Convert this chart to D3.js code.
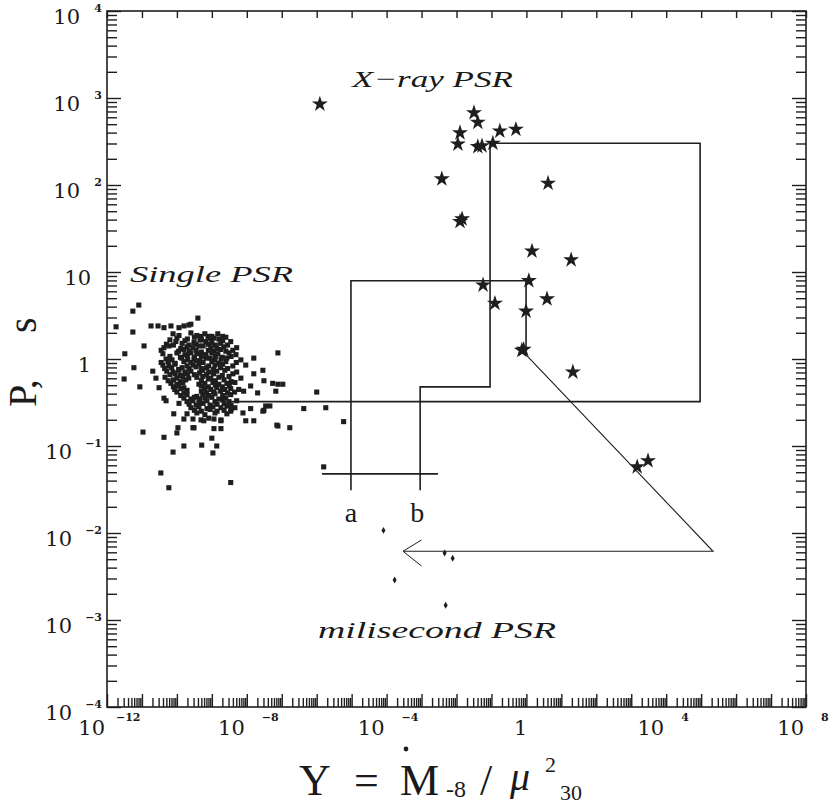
<!DOCTYPE html>
<html>
<head>
<meta charset="utf-8">
<script src="https://cdn.jsdelivr.net/npm/d3@7"></script>
<style>
  body { margin: 0; background: #fff; }
  text { fill: #1a1a1a; }
</style>
</head>
<body>
<div id="viz"></div>
<script>
var width = 831;
var height = 805;

// tick exponents (decades)
var xTickExps = [-12, -8, -4, 0, 4, 8];
var yTickExps = [-4, -3, -2, -1, 0, 1, 2, 3, 4];

// all points are [log10 Y, log10 P]
var xrayPSR = [
  [-5.91, 2.93], [-1.50, 2.83], [-1.39, 2.72], [-1.90, 2.60], [-1.96, 2.47],
  [-1.39, 2.44], [-1.27, 2.45], [-0.96, 2.48], [-0.76, 2.62], [-0.30, 2.64],
  [-2.42, 2.07], [0.62, 2.02], [-1.84, 1.61], [-1.90, 1.58], [0.16, 1.24],
  [1.28, 1.14], [-1.24, 0.85], [0.07, 0.90], [-0.90, 0.64], [0.59, 0.69],
  [-0.01, 0.55], [-0.13, 0.10], [-0.08, 0.11], [1.33, -0.15], [3.17, -1.24], [3.48, -1.17]
];

var singlePSR = [
  // scattered ones
  [-11.74, 0.37], [-11.26, 0.55], [-11.09, 0.62], [-11.26, 0.31], [-10.74, 0.38],
  [-11.49, 0.06], [-11.51, -0.23], [-11.23, -0.10], [-11.06, -0.32], [-10.94, 0.15],
  [-9.40, 0.47], [-9.66, 0.39], [-10.97, -0.84], [-10.37, -0.90], [-10.00, -0.85],
  [-9.80, -1.00], [-10.11, -1.07], [-9.29, -0.99], [-8.97, -1.08], [-8.86, -1.00],
  [-9.00, -0.91], [-9.54, -0.79], [-10.46, -1.31], [-10.23, -1.48], [-8.46, -1.42],
  [-7.11, 0.07], [-7.80, 0.01], [-7.54, -0.13], [-7.14, -0.76], [-6.77, -0.79],
  [-7.11, -0.29], [-7.51, -0.25], [-7.80, -0.71], [-7.51, -0.59], [-7.34, -0.54],
  [-6.00, -0.38], [-6.37, -0.57], [-5.74, -0.56], [-5.23, -0.72], [-5.80, -1.24],
  [-7.26, -0.28], [-6.97, -0.29], [-7.17, -0.37], [-7.89, -0.31], [-7.69, -0.39],
  [-8.09, -0.37], [-7.46, -0.54], [-7.54, -0.60], [-7.89, -0.57], [-8.11, -0.62],
  [-8.03, -0.71], [-7.11, -0.77], [-8.03, -0.07], [-7.80, -0.17],
  [-10.54, 0.38], [-10.37, 0.36], [-10.17, 0.38], [-9.94, 0.36], [-9.80, 0.38], [-9.60, 0.40],
  [-9.31, 0.26], [-9.11, 0.26], [-8.94, 0.24], [-8.69, 0.26], [-8.83, 0.29], [-8.60, 0.25],
  [-10.69, -0.14], [-10.60, -0.22], [-10.51, -0.33], [-10.37, -0.45], [-10.31, -0.48],
  [-9.94, -0.51], [-10.09, -0.63], [-9.80, -0.69], [-9.51, -0.79], [-9.23, -0.71],
  [-8.94, -0.69], [-8.74, -0.80], [-9.97, -0.79], [-8.94, -0.80], [-8.74, -0.71], [-8.46, -0.60],
  // the dense clump, row by row from the top
  [-10.11, 0.29], [-9.94, 0.27], [-9.60, 0.30], [-9.43, 0.27], [-9.20, 0.29], [-9.00, 0.26],
  [-10.00, 0.24], [-9.70, 0.23], [-9.50, 0.25], [-9.30, 0.22], [-9.05, 0.24], [-8.80, 0.23],
  [-10.20, 0.22], [-10.03, 0.20], [-9.77, 0.21], [-9.51, 0.19], [-9.34, 0.22], [-9.17, 0.20], [-9.00, 0.19], [-8.69, 0.21], [-8.46, 0.20],
  [-10.30, 0.17], [-10.10, 0.16], [-9.85, 0.18], [-9.65, 0.16], [-9.45, 0.17], [-9.25, 0.15], [-9.10, 0.17], [-8.90, 0.16], [-8.75, 0.18], [-8.55, 0.16],
  [-10.37, 0.13], [-10.23, 0.15], [-9.89, 0.12], [-9.71, 0.14], [-9.54, 0.13], [-9.37, 0.15], [-9.03, 0.13], [-8.86, 0.12], [-8.66, 0.14], [-8.29, 0.13],
  [-10.45, 0.10], [-9.95, 0.09], [-9.80, 0.11], [-9.65, 0.09], [-9.45, 0.10], [-9.30, 0.08], [-9.10, 0.10], [-8.95, 0.09], [-8.75, 0.11], [-8.60, 0.09], [-8.40, 0.10],
  [-10.40, 0.06], [-10.00, 0.07], [-9.77, 0.05], [-9.60, 0.07], [-9.43, 0.06], [-9.17, 0.05], [-9.00, 0.07], [-8.83, 0.06], [-8.51, 0.07], [-8.31, 0.05],
  [-10.20, 0.03], [-9.90, 0.02], [-9.70, 0.04], [-9.50, 0.02], [-9.30, 0.03], [-9.05, 0.01], [-8.90, 0.03], [-8.70, 0.02], [-8.45, 0.03],
  [-10.31, 0.00], [-10.14, -0.01], [-9.86, 0.01], [-9.69, -0.01], [-9.51, 0.00], [-9.34, -0.02], [-9.17, 0.01], [-8.91, -0.01], [-8.74, 0.00], [-8.57, 0.01], [-8.17, -0.01],
  [-10.45, -0.04], [-10.25, -0.03], [-10.05, -0.05], [-9.80, -0.03], [-9.60, -0.04], [-9.45, -0.02], [-9.25, -0.04], [-9.00, -0.03], [-8.80, -0.05], [-8.60, -0.03], [-8.30, -0.04],
  [-10.40, -0.07], [-10.23, -0.08], [-10.06, -0.06], [-9.71, -0.08], [-9.54, -0.07], [-9.37, -0.06], [-9.09, -0.08], [-8.91, -0.07], [-8.69, -0.06], [-8.40, -0.08],
  [-10.35, -0.11], [-10.15, -0.10], [-9.95, -0.12], [-9.85, -0.10], [-9.65, -0.11], [-9.45, -0.09], [-9.30, -0.11], [-9.15, -0.10], [-8.95, -0.12], [-8.75, -0.10], [-8.55, -0.11],
  [-10.29, -0.14], [-10.11, -0.15], [-9.94, -0.13], [-9.77, -0.15], [-9.60, -0.14], [-9.26, -0.13], [-9.09, -0.15], [-8.86, -0.14], [-8.63, -0.13], [-8.29, -0.15],
  [-10.20, -0.18], [-10.05, -0.17], [-9.90, -0.19], [-9.70, -0.17], [-9.50, -0.18], [-9.35, -0.16], [-9.15, -0.18], [-8.95, -0.17], [-8.70, -0.19], [-8.40, -0.17],
  [-10.34, -0.21], [-10.00, -0.22], [-9.83, -0.20], [-9.66, -0.22], [-9.43, -0.21], [-9.26, -0.20], [-9.03, -0.22], [-8.80, -0.21], [-8.51, -0.20], [-8.17, -0.22],
  [-10.25, -0.25], [-10.10, -0.24], [-9.90, -0.26], [-9.75, -0.24], [-9.30, -0.25], [-9.10, -0.23], [-8.90, -0.25], [-8.65, -0.24], [-8.45, -0.26],
  [-10.17, -0.28], [-10.00, -0.29], [-9.83, -0.27], [-9.37, -0.29], [-9.20, -0.28], [-8.97, -0.27], [-8.80, -0.29], [-8.57, -0.28], [-8.34, -0.27],
  [-10.10, -0.32], [-9.95, -0.31], [-9.80, -0.33], [-9.30, -0.31], [-9.10, -0.32], [-8.90, -0.30], [-8.70, -0.32], [-8.50, -0.31],
  [-10.06, -0.35], [-9.89, -0.34], [-9.71, -0.36], [-9.20, -0.34], [-9.03, -0.35], [-8.86, -0.33], [-8.63, -0.35], [-8.46, -0.34], [-8.23, -0.35],
  [-10.00, -0.38], [-9.80, -0.39], [-9.30, -0.37], [-9.15, -0.39], [-8.95, -0.38], [-8.75, -0.37], [-8.55, -0.39], [-8.35, -0.38],
  [-9.89, -0.42], [-9.71, -0.41], [-9.43, -0.43], [-9.26, -0.41], [-9.09, -0.42], [-8.91, -0.40], [-8.69, -0.42], [-8.46, -0.41],
  [-9.80, -0.45], [-9.60, -0.46], [-9.50, -0.44], [-9.35, -0.46], [-9.20, -0.45], [-9.00, -0.44], [-8.80, -0.46], [-8.60, -0.45],
  [-9.71, -0.49], [-9.54, -0.48], [-9.37, -0.50], [-9.14, -0.48], [-8.91, -0.49], [-8.69, -0.47], [-8.51, -0.49], [-8.29, -0.48],
  [-9.65, -0.52], [-9.45, -0.53], [-9.25, -0.51], [-9.05, -0.53], [-8.85, -0.52], [-8.65, -0.51], [-8.45, -0.53],
  [-9.60, -0.56], [-9.37, -0.55], [-9.14, -0.57], [-8.97, -0.55], [-8.74, -0.56], [-8.57, -0.54], [-8.34, -0.56],
  [-9.50, -0.59], [-9.30, -0.60], [-9.05, -0.58], [-8.85, -0.60], [-8.65, -0.59], [-8.45, -0.58],
  [-9.71, -0.63], [-9.43, -0.62], [-9.20, -0.64], [-8.91, -0.62], [-8.57, -0.63],
  [-9.54, -0.69], [-9.31, -0.70], [-9.09, -0.68], [-8.74, -0.70]
];

var msPSR = [
  [-4.09, -1.97], [-2.34, -2.23], [-2.11, -2.29], [-3.77, -2.54], [-2.31, -2.83]
];

// schematic tracks
var outerTrack = [[-8.46, -0.49], [4.97, -0.49], [4.97, 2.48], [-1.04, 2.48], [-1.04, -0.32], [-3.04, -0.32], [-3.04, -1.51]];
var innerTrack = [[-5.02, -1.51], [-5.02, 0.90], [-0.01, 0.90], [-0.01, 0.10]];
var crossLine = [[-5.85, -1.32], [-2.53, -1.32]];
var spinDown = [[-0.13, 0.10], [5.34, -2.21], [-3.53, -2.21]];
var arrowHead = [[-3.00, -2.08], [-3.53, -2.21], [-3.00, -2.38]];
var trackLabels = [{t: "a", v: [-5.02, -1.87]}, {t: "b", v: [-3.12, -1.87]}];

var svg = d3.select("#viz")
    .append("svg")
    .attr("width", width)
    .attr("height", height);

var x = d3.scaleLog().domain([1e-12, 1e8]).range([107, 806]);
var y = d3.scaleLog().domain([1e-4, 1e4]).range([707, 11]);

function px(d) { return x(Math.pow(10, d[0])); }
function py(d) { return y(Math.pow(10, d[1])); }

function decades(lo, hi) {
  var out = [];
  for (var e = lo; e <= hi; e++) out.push(Math.pow(10, e));
  return out;
}
function minors(lo, hi) {
  var out = [];
  for (var e = lo; e < hi; e++)
    for (var m = 2; m < 10; m++) out.push(m * Math.pow(10, e));
  return out;
}

var ink = "#1e1e1e";

function tickGroup(axis, tx, ty) {
  var g = svg.append("g").attr("transform", "translate(" + tx + "," + ty + ")").call(axis);
  g.select(".domain").remove();
  g.selectAll("line").attr("stroke", ink).attr("stroke-width", 1.4);
  g.selectAll("text").remove();
}

tickGroup(d3.axisBottom(x).tickValues(minors(-12, 8)).tickSize(-9), 0, 707);
tickGroup(d3.axisBottom(x).tickValues(decades(-12, 8)).tickSize(-13), 0, 707);
tickGroup(d3.axisTop(x).tickValues(decades(-12, 8)).tickSize(-7), 0, 11);
tickGroup(d3.axisLeft(y).tickValues(minors(-4, 4)).tickSize(-10), 107, 0);
tickGroup(d3.axisLeft(y).tickValues(decades(-4, 4)).tickSize(-14), 107, 0);
tickGroup(d3.axisRight(y).tickValues(minors(-4, 4)).tickSize(-10), 806, 0);
tickGroup(d3.axisRight(y).tickValues(decades(-4, 4)).tickSize(-14), 806, 0);

svg.append("rect")
    .attr("x", x(1e-12)).attr("y", y(1e4))
    .attr("width", x(1e8) - x(1e-12)).attr("height", y(1e-4) - y(1e4))
    .attr("fill", "none").attr("stroke", ink).attr("stroke-width", 1.6);

// tick labels
var labelFont = "DejaVu Serif";
yTickExps.forEach(function (e) {
  var ty = y(Math.pow(10, e));
  if (e === 0 || e === 1) {
    svg.append("text").attr("x", 91).attr("y", ty + 13)
      .attr("text-anchor", "end").attr("font-family", labelFont).attr("font-size", 21)
      .text(e === 0 ? "1" : "10");
  } else {
    svg.append("text").attr("x", e < 0 ? 72 : 80).attr("y", ty + 13)
      .attr("text-anchor", "end").attr("font-family", labelFont).attr("font-size", 21)
      .text("10");
    svg.append("text").attr("x", 102).attr("y", ty + 1)
      .attr("text-anchor", "end").attr("font-family", labelFont).attr("font-size", 11)
      .attr("font-weight", "bold")
      .text(e < 0 ? "\u2212" + (-e) : String(e));
  }
});

xTickExps.forEach(function (e) {
  var tx = x(Math.pow(10, e));
  if (e === 0) {
    svg.append("text").attr("x", tx + 1).attr("y", 735)
      .attr("text-anchor", "end").attr("font-family", labelFont).attr("font-size", 21)
      .text("1");
  } else {
    svg.append("text").attr("x", tx - 2).attr("y", 735)
      .attr("text-anchor", "end").attr("font-family", labelFont).attr("font-size", 21)
      .text("10");
    svg.append("text").attr("x", tx + (e === -12 ? 9 : 15)).attr("y", 721)
      .attr("font-family", labelFont).attr("font-size", 11).attr("font-weight", "bold")
      .text(e < 0 ? "\u2212" + (-e) : String(e));
  }
});

// tracks
var line = d3.line().x(px).y(py);
[outerTrack, innerTrack, crossLine].forEach(function (p) {
  svg.append("path").attr("d", line(p)).attr("fill", "none")
    .attr("stroke", ink).attr("stroke-width", 1.6);
});
svg.append("path").attr("d", line(spinDown)).attr("fill", "none")
  .attr("stroke", ink).attr("stroke-width", 1.1);
svg.append("path").attr("d", line(arrowHead)).attr("fill", "none")
  .attr("stroke", ink).attr("stroke-width", 1);

svg.selectAll(".tl").data(trackLabels).enter().append("text")
  .attr("x", function (d) { return px(d.v); })
  .attr("y", function (d) { return py(d.v); })
  .attr("text-anchor", "middle")
  .attr("font-family", "Liberation Serif").attr("font-size", 28)
  .text(function (d) { return d.t; });

// points
svg.selectAll(".single").data(singlePSR).enter().append("path")
  .attr("d", d3.symbol(d3.symbolSquare).size(26))
  .attr("transform", function (d) { return "translate(" + px(d) + "," + py(d) + ")"; })
  .attr("fill", ink);

svg.selectAll(".ms").data(msPSR).enter().append("path")
  .attr("d", d3.symbol(d3.symbolDiamond).size(14))
  .attr("transform", function (d) { return "translate(" + px(d) + "," + py(d) + ")"; })
  .attr("fill", ink);

svg.selectAll(".xray").data(xrayPSR).enter().append("path")
  .attr("d", d3.symbol(d3.symbolStar).size(80))
  .attr("transform", function (d) { return "translate(" + px(d) + "," + py(d) + ")"; })
  .attr("fill", ink);

// group names
function italic(t, xx, yy, len) {
  svg.append("text").attr("x", xx).attr("y", yy)
    .attr("font-family", "Liberation Serif").attr("font-style", "italic")
    .attr("font-size", 24).attr("textLength", len).attr("lengthAdjust", "spacingAndGlyphs")
    .text(t);
}
italic("X\u2212ray  PSR", 352, 87, 161);
italic("Single  PSR", 130, 282, 163);
italic("milisecond PSR", 318, 638, 238);

// axis titles
var serif = "Liberation Serif";
function piece(t, xx, yy, size, style) {
  return svg.append("text").attr("x", xx).attr("y", yy)
    .attr("font-family", serif).attr("font-size", size)
    .attr("font-style", style || "normal").text(t);
}
piece("Y", 299, 795, 44);
piece("=", 354, 795, 44);
piece("M", 400, 795, 44);
svg.append("circle").attr("cx", 406).attr("cy", 749).attr("r", 2.4).attr("fill", ink);
piece("-8", 446, 797, 24);
piece("/", 480, 795, 44);
piece("\u03bc", 510, 790, 40, "italic");
piece("2", 545, 772, 22);
piece("30", 560, 800, 22);

svg.append("text").attr("transform", "translate(36,407) rotate(-90)")
  .attr("font-family", serif).attr("font-size", 40).text("P,");
svg.append("text").attr("transform", "translate(36,333) rotate(-90)")
  .attr("font-family", serif).attr("font-size", 40).text("s");
</script>
</body>
</html>
